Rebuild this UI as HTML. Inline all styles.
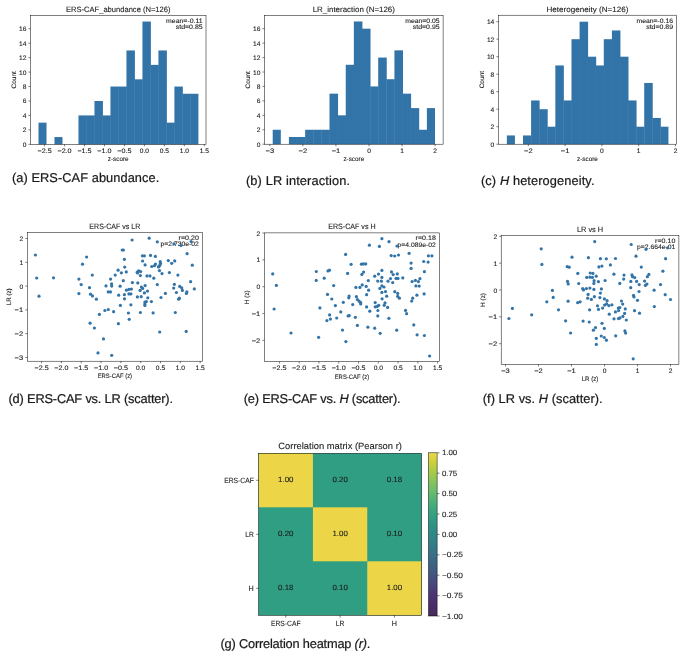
<!DOCTYPE html>
<html><head><meta charset="utf-8"><title>Figure</title>
<style>
html,body{margin:0;padding:0;background:#fff;}
svg{display:block;will-change:transform;}
text{font-family:"Liberation Sans",sans-serif;text-rendering:geometricPrecision;}
</style></head>
<body>
<svg width="685" height="651" viewBox="0 0 685 651">
<defs><filter id="tb" x="-20%" y="-40%" width="140%" height="180%"><feGaussianBlur stdDeviation="0"/></filter></defs>
<rect width="685" height="651" fill="#fff"/>
<rect x="38.50" y="122.64" width="8.00" height="21.66" fill="#3274a8"/>
<rect x="54.49" y="137.08" width="8.00" height="7.22" fill="#3274a8"/>
<rect x="78.47" y="115.42" width="8.45" height="28.88" fill="#3274a8"/>
<rect x="86.47" y="115.42" width="8.45" height="28.88" fill="#3274a8"/>
<rect x="94.47" y="100.98" width="8.45" height="43.32" fill="#3274a8"/>
<rect x="102.46" y="115.42" width="8.45" height="28.88" fill="#3274a8"/>
<rect x="110.45" y="86.54" width="8.45" height="57.76" fill="#3274a8"/>
<rect x="118.45" y="86.54" width="8.45" height="57.76" fill="#3274a8"/>
<rect x="126.45" y="50.44" width="8.45" height="93.86" fill="#3274a8"/>
<rect x="134.44" y="79.32" width="8.45" height="64.98" fill="#3274a8"/>
<rect x="142.44" y="21.56" width="8.45" height="122.74" fill="#3274a8"/>
<rect x="150.43" y="64.88" width="8.45" height="79.42" fill="#3274a8"/>
<rect x="158.43" y="50.44" width="8.45" height="93.86" fill="#3274a8"/>
<rect x="166.42" y="122.64" width="8.45" height="21.66" fill="#3274a8"/>
<rect x="174.41" y="86.54" width="8.45" height="57.76" fill="#3274a8"/>
<rect x="182.41" y="93.76" width="8.45" height="50.54" fill="#3274a8"/>
<rect x="190.41" y="93.76" width="8.00" height="50.54" fill="#3274a8"/>
<line x1="86.47" y1="115.42" x2="86.47" y2="144.30" stroke="rgba(255,255,255,0.09)" stroke-width="0.35"/>
<line x1="94.47" y1="115.42" x2="94.47" y2="144.30" stroke="rgba(255,255,255,0.09)" stroke-width="0.35"/>
<line x1="102.46" y1="115.42" x2="102.46" y2="144.30" stroke="rgba(255,255,255,0.09)" stroke-width="0.35"/>
<line x1="110.45" y1="115.42" x2="110.45" y2="144.30" stroke="rgba(255,255,255,0.09)" stroke-width="0.35"/>
<line x1="118.45" y1="86.54" x2="118.45" y2="144.30" stroke="rgba(255,255,255,0.09)" stroke-width="0.35"/>
<line x1="126.45" y1="86.54" x2="126.45" y2="144.30" stroke="rgba(255,255,255,0.09)" stroke-width="0.35"/>
<line x1="134.44" y1="79.32" x2="134.44" y2="144.30" stroke="rgba(255,255,255,0.09)" stroke-width="0.35"/>
<line x1="142.44" y1="79.32" x2="142.44" y2="144.30" stroke="rgba(255,255,255,0.09)" stroke-width="0.35"/>
<line x1="150.43" y1="64.88" x2="150.43" y2="144.30" stroke="rgba(255,255,255,0.09)" stroke-width="0.35"/>
<line x1="158.43" y1="64.88" x2="158.43" y2="144.30" stroke="rgba(255,255,255,0.09)" stroke-width="0.35"/>
<line x1="166.42" y1="122.64" x2="166.42" y2="144.30" stroke="rgba(255,255,255,0.09)" stroke-width="0.35"/>
<line x1="174.41" y1="122.64" x2="174.41" y2="144.30" stroke="rgba(255,255,255,0.09)" stroke-width="0.35"/>
<line x1="182.41" y1="93.76" x2="182.41" y2="144.30" stroke="rgba(255,255,255,0.09)" stroke-width="0.35"/>
<line x1="190.41" y1="93.76" x2="190.41" y2="144.30" stroke="rgba(255,255,255,0.09)" stroke-width="0.35"/>
<rect x="30.50" y="15.40" width="175.50" height="128.90" fill="none" stroke="#000" stroke-width="0.5"/>
<line x1="44.58" y1="144.30" x2="44.58" y2="146.34" stroke="#000" stroke-width="0.5"/>
<text x="44.58" y="152.75" font-size="6.41" text-anchor="middle" textLength="14.16" lengthAdjust="spacingAndGlyphs" fill="#1c1c1c" stroke="#1c1c1c" stroke-width="0.1">−2.5</text>
<line x1="64.54" y1="144.30" x2="64.54" y2="146.34" stroke="#000" stroke-width="0.5"/>
<text x="64.54" y="152.75" font-size="6.41" text-anchor="middle" textLength="14.16" lengthAdjust="spacingAndGlyphs" fill="#1c1c1c" stroke="#1c1c1c" stroke-width="0.1">−2.0</text>
<line x1="84.51" y1="144.30" x2="84.51" y2="146.34" stroke="#000" stroke-width="0.5"/>
<text x="84.51" y="152.75" font-size="6.41" text-anchor="middle" textLength="14.16" lengthAdjust="spacingAndGlyphs" fill="#1c1c1c" stroke="#1c1c1c" stroke-width="0.1">−1.5</text>
<line x1="104.47" y1="144.30" x2="104.47" y2="146.34" stroke="#000" stroke-width="0.5"/>
<text x="104.47" y="152.75" font-size="6.41" text-anchor="middle" textLength="14.16" lengthAdjust="spacingAndGlyphs" fill="#1c1c1c" stroke="#1c1c1c" stroke-width="0.1">−1.0</text>
<line x1="124.44" y1="144.30" x2="124.44" y2="146.34" stroke="#000" stroke-width="0.5"/>
<text x="124.44" y="152.75" font-size="6.41" text-anchor="middle" textLength="14.16" lengthAdjust="spacingAndGlyphs" fill="#1c1c1c" stroke="#1c1c1c" stroke-width="0.1">−0.5</text>
<line x1="144.40" y1="144.30" x2="144.40" y2="146.34" stroke="#000" stroke-width="0.5"/>
<text x="144.40" y="152.75" font-size="6.41" text-anchor="middle" textLength="9.27" lengthAdjust="spacingAndGlyphs" fill="#1c1c1c" stroke="#1c1c1c" stroke-width="0.1">0.0</text>
<line x1="164.37" y1="144.30" x2="164.37" y2="146.34" stroke="#000" stroke-width="0.5"/>
<text x="164.37" y="152.75" font-size="6.41" text-anchor="middle" textLength="9.27" lengthAdjust="spacingAndGlyphs" fill="#1c1c1c" stroke="#1c1c1c" stroke-width="0.1">0.5</text>
<line x1="184.33" y1="144.30" x2="184.33" y2="146.34" stroke="#000" stroke-width="0.5"/>
<text x="184.33" y="152.75" font-size="6.41" text-anchor="middle" textLength="9.27" lengthAdjust="spacingAndGlyphs" fill="#1c1c1c" stroke="#1c1c1c" stroke-width="0.1">1.0</text>
<line x1="204.30" y1="144.30" x2="204.30" y2="146.34" stroke="#000" stroke-width="0.5"/>
<text x="204.30" y="152.75" font-size="6.41" text-anchor="middle" textLength="9.27" lengthAdjust="spacingAndGlyphs" fill="#1c1c1c" stroke="#1c1c1c" stroke-width="0.1">1.5</text>
<line x1="28.46" y1="144.30" x2="30.50" y2="144.30" stroke="#000" stroke-width="0.5"/>
<text x="26.42" y="146.80" font-size="6.41" text-anchor="end" textLength="3.71" lengthAdjust="spacingAndGlyphs" fill="#1c1c1c" stroke="#1c1c1c" stroke-width="0.1">0</text>
<line x1="28.46" y1="129.86" x2="30.50" y2="129.86" stroke="#000" stroke-width="0.5"/>
<text x="26.42" y="132.36" font-size="6.41" text-anchor="end" textLength="3.71" lengthAdjust="spacingAndGlyphs" fill="#1c1c1c" stroke="#1c1c1c" stroke-width="0.1">2</text>
<line x1="28.46" y1="115.42" x2="30.50" y2="115.42" stroke="#000" stroke-width="0.5"/>
<text x="26.42" y="117.92" font-size="6.41" text-anchor="end" textLength="3.71" lengthAdjust="spacingAndGlyphs" fill="#1c1c1c" stroke="#1c1c1c" stroke-width="0.1">4</text>
<line x1="28.46" y1="100.98" x2="30.50" y2="100.98" stroke="#000" stroke-width="0.5"/>
<text x="26.42" y="103.48" font-size="6.41" text-anchor="end" textLength="3.71" lengthAdjust="spacingAndGlyphs" fill="#1c1c1c" stroke="#1c1c1c" stroke-width="0.1">6</text>
<line x1="28.46" y1="86.54" x2="30.50" y2="86.54" stroke="#000" stroke-width="0.5"/>
<text x="26.42" y="89.04" font-size="6.41" text-anchor="end" textLength="3.71" lengthAdjust="spacingAndGlyphs" fill="#1c1c1c" stroke="#1c1c1c" stroke-width="0.1">8</text>
<line x1="28.46" y1="72.10" x2="30.50" y2="72.10" stroke="#000" stroke-width="0.5"/>
<text x="26.42" y="74.60" font-size="6.41" text-anchor="end" textLength="7.42" lengthAdjust="spacingAndGlyphs" fill="#1c1c1c" stroke="#1c1c1c" stroke-width="0.1">10</text>
<line x1="28.46" y1="57.66" x2="30.50" y2="57.66" stroke="#000" stroke-width="0.5"/>
<text x="26.42" y="60.16" font-size="6.41" text-anchor="end" textLength="7.42" lengthAdjust="spacingAndGlyphs" fill="#1c1c1c" stroke="#1c1c1c" stroke-width="0.1">12</text>
<line x1="28.46" y1="43.22" x2="30.50" y2="43.22" stroke="#000" stroke-width="0.5"/>
<text x="26.42" y="45.72" font-size="6.41" text-anchor="end" textLength="7.42" lengthAdjust="spacingAndGlyphs" fill="#1c1c1c" stroke="#1c1c1c" stroke-width="0.1">14</text>
<line x1="28.46" y1="28.78" x2="30.50" y2="28.78" stroke="#000" stroke-width="0.5"/>
<text x="26.42" y="31.28" font-size="6.41" text-anchor="end" textLength="7.42" lengthAdjust="spacingAndGlyphs" fill="#1c1c1c" stroke="#1c1c1c" stroke-width="0.1">16</text>
<text x="118.25" y="11.90" font-size="7.70" text-anchor="middle" textLength="104.54" lengthAdjust="spacingAndGlyphs" fill="#1c1c1c" stroke="#1c1c1c" stroke-width="0.1">ERS-CAF_abundance (N=126)</text>
<text x="202.64" y="22.80" font-size="6.41" text-anchor="end" textLength="36.50" lengthAdjust="spacingAndGlyphs" fill="#1c1c1c" stroke="#1c1c1c" stroke-width="0.1">mean=-0.11</text>
<text x="202.64" y="29.15" font-size="6.41" text-anchor="end" textLength="26.89" lengthAdjust="spacingAndGlyphs" fill="#1c1c1c" stroke="#1c1c1c" stroke-width="0.1">std=0.85</text>
<text x="118.25" y="160.70" font-size="6.41" text-anchor="middle" textLength="20.83" lengthAdjust="spacingAndGlyphs" fill="#1c1c1c" stroke="#1c1c1c" stroke-width="0.1">z-score</text>
<text x="16.10" y="79.85" font-size="6.41" text-anchor="middle" textLength="17.31" lengthAdjust="spacingAndGlyphs" fill="#1c1c1c" stroke="#1c1c1c" stroke-width="0.1" transform="rotate(-90 16.10 79.85)">Count</text>
<rect x="272.70" y="129.76" width="8.12" height="14.44" fill="#3274a8"/>
<rect x="288.93" y="136.98" width="8.56" height="7.22" fill="#3274a8"/>
<rect x="297.04" y="136.98" width="8.56" height="7.22" fill="#3274a8"/>
<rect x="305.16" y="129.76" width="8.56" height="14.44" fill="#3274a8"/>
<rect x="313.27" y="129.76" width="8.56" height="14.44" fill="#3274a8"/>
<rect x="321.39" y="129.76" width="8.56" height="14.44" fill="#3274a8"/>
<rect x="329.50" y="93.66" width="8.56" height="50.54" fill="#3274a8"/>
<rect x="337.62" y="115.32" width="8.56" height="28.88" fill="#3274a8"/>
<rect x="345.74" y="64.78" width="8.56" height="79.42" fill="#3274a8"/>
<rect x="353.85" y="21.46" width="8.56" height="122.74" fill="#3274a8"/>
<rect x="361.96" y="28.68" width="8.56" height="115.52" fill="#3274a8"/>
<rect x="370.08" y="86.44" width="8.56" height="57.76" fill="#3274a8"/>
<rect x="378.19" y="57.56" width="8.56" height="86.64" fill="#3274a8"/>
<rect x="386.31" y="79.22" width="8.56" height="64.98" fill="#3274a8"/>
<rect x="394.43" y="50.34" width="8.56" height="93.86" fill="#3274a8"/>
<rect x="402.54" y="93.66" width="8.56" height="50.54" fill="#3274a8"/>
<rect x="410.65" y="108.10" width="8.56" height="36.10" fill="#3274a8"/>
<rect x="418.77" y="129.76" width="8.56" height="14.44" fill="#3274a8"/>
<rect x="426.88" y="108.10" width="8.12" height="36.10" fill="#3274a8"/>
<line x1="297.04" y1="136.98" x2="297.04" y2="144.20" stroke="rgba(255,255,255,0.09)" stroke-width="0.35"/>
<line x1="305.16" y1="136.98" x2="305.16" y2="144.20" stroke="rgba(255,255,255,0.09)" stroke-width="0.35"/>
<line x1="313.27" y1="129.76" x2="313.27" y2="144.20" stroke="rgba(255,255,255,0.09)" stroke-width="0.35"/>
<line x1="321.39" y1="129.76" x2="321.39" y2="144.20" stroke="rgba(255,255,255,0.09)" stroke-width="0.35"/>
<line x1="329.50" y1="129.76" x2="329.50" y2="144.20" stroke="rgba(255,255,255,0.09)" stroke-width="0.35"/>
<line x1="337.62" y1="115.32" x2="337.62" y2="144.20" stroke="rgba(255,255,255,0.09)" stroke-width="0.35"/>
<line x1="345.74" y1="115.32" x2="345.74" y2="144.20" stroke="rgba(255,255,255,0.09)" stroke-width="0.35"/>
<line x1="353.85" y1="64.78" x2="353.85" y2="144.20" stroke="rgba(255,255,255,0.09)" stroke-width="0.35"/>
<line x1="361.96" y1="28.68" x2="361.96" y2="144.20" stroke="rgba(255,255,255,0.09)" stroke-width="0.35"/>
<line x1="370.08" y1="86.44" x2="370.08" y2="144.20" stroke="rgba(255,255,255,0.09)" stroke-width="0.35"/>
<line x1="378.19" y1="86.44" x2="378.19" y2="144.20" stroke="rgba(255,255,255,0.09)" stroke-width="0.35"/>
<line x1="386.31" y1="79.22" x2="386.31" y2="144.20" stroke="rgba(255,255,255,0.09)" stroke-width="0.35"/>
<line x1="394.43" y1="79.22" x2="394.43" y2="144.20" stroke="rgba(255,255,255,0.09)" stroke-width="0.35"/>
<line x1="402.54" y1="93.66" x2="402.54" y2="144.20" stroke="rgba(255,255,255,0.09)" stroke-width="0.35"/>
<line x1="410.65" y1="108.10" x2="410.65" y2="144.20" stroke="rgba(255,255,255,0.09)" stroke-width="0.35"/>
<line x1="418.77" y1="129.76" x2="418.77" y2="144.20" stroke="rgba(255,255,255,0.09)" stroke-width="0.35"/>
<line x1="426.88" y1="129.76" x2="426.88" y2="144.20" stroke="rgba(255,255,255,0.09)" stroke-width="0.35"/>
<rect x="264.50" y="15.30" width="178.60" height="128.90" fill="none" stroke="#000" stroke-width="0.5"/>
<line x1="269.85" y1="144.20" x2="269.85" y2="146.24" stroke="#000" stroke-width="0.5"/>
<text x="269.85" y="152.65" font-size="6.41" text-anchor="middle" textLength="8.59" lengthAdjust="spacingAndGlyphs" fill="#1c1c1c" stroke="#1c1c1c" stroke-width="0.1">−3</text>
<line x1="302.90" y1="144.20" x2="302.90" y2="146.24" stroke="#000" stroke-width="0.5"/>
<text x="302.90" y="152.65" font-size="6.41" text-anchor="middle" textLength="8.59" lengthAdjust="spacingAndGlyphs" fill="#1c1c1c" stroke="#1c1c1c" stroke-width="0.1">−2</text>
<line x1="335.95" y1="144.20" x2="335.95" y2="146.24" stroke="#000" stroke-width="0.5"/>
<text x="335.95" y="152.65" font-size="6.41" text-anchor="middle" textLength="8.59" lengthAdjust="spacingAndGlyphs" fill="#1c1c1c" stroke="#1c1c1c" stroke-width="0.1">−1</text>
<line x1="369.00" y1="144.20" x2="369.00" y2="146.24" stroke="#000" stroke-width="0.5"/>
<text x="369.00" y="152.65" font-size="6.41" text-anchor="middle" textLength="3.71" lengthAdjust="spacingAndGlyphs" fill="#1c1c1c" stroke="#1c1c1c" stroke-width="0.1">0</text>
<line x1="402.05" y1="144.20" x2="402.05" y2="146.24" stroke="#000" stroke-width="0.5"/>
<text x="402.05" y="152.65" font-size="6.41" text-anchor="middle" textLength="3.71" lengthAdjust="spacingAndGlyphs" fill="#1c1c1c" stroke="#1c1c1c" stroke-width="0.1">1</text>
<line x1="435.10" y1="144.20" x2="435.10" y2="146.24" stroke="#000" stroke-width="0.5"/>
<text x="435.10" y="152.65" font-size="6.41" text-anchor="middle" textLength="3.71" lengthAdjust="spacingAndGlyphs" fill="#1c1c1c" stroke="#1c1c1c" stroke-width="0.1">2</text>
<line x1="262.46" y1="144.20" x2="264.50" y2="144.20" stroke="#000" stroke-width="0.5"/>
<text x="260.42" y="146.70" font-size="6.41" text-anchor="end" textLength="3.71" lengthAdjust="spacingAndGlyphs" fill="#1c1c1c" stroke="#1c1c1c" stroke-width="0.1">0</text>
<line x1="262.46" y1="129.76" x2="264.50" y2="129.76" stroke="#000" stroke-width="0.5"/>
<text x="260.42" y="132.26" font-size="6.41" text-anchor="end" textLength="3.71" lengthAdjust="spacingAndGlyphs" fill="#1c1c1c" stroke="#1c1c1c" stroke-width="0.1">2</text>
<line x1="262.46" y1="115.32" x2="264.50" y2="115.32" stroke="#000" stroke-width="0.5"/>
<text x="260.42" y="117.82" font-size="6.41" text-anchor="end" textLength="3.71" lengthAdjust="spacingAndGlyphs" fill="#1c1c1c" stroke="#1c1c1c" stroke-width="0.1">4</text>
<line x1="262.46" y1="100.88" x2="264.50" y2="100.88" stroke="#000" stroke-width="0.5"/>
<text x="260.42" y="103.38" font-size="6.41" text-anchor="end" textLength="3.71" lengthAdjust="spacingAndGlyphs" fill="#1c1c1c" stroke="#1c1c1c" stroke-width="0.1">6</text>
<line x1="262.46" y1="86.44" x2="264.50" y2="86.44" stroke="#000" stroke-width="0.5"/>
<text x="260.42" y="88.94" font-size="6.41" text-anchor="end" textLength="3.71" lengthAdjust="spacingAndGlyphs" fill="#1c1c1c" stroke="#1c1c1c" stroke-width="0.1">8</text>
<line x1="262.46" y1="72.00" x2="264.50" y2="72.00" stroke="#000" stroke-width="0.5"/>
<text x="260.42" y="74.50" font-size="6.41" text-anchor="end" textLength="7.42" lengthAdjust="spacingAndGlyphs" fill="#1c1c1c" stroke="#1c1c1c" stroke-width="0.1">10</text>
<line x1="262.46" y1="57.56" x2="264.50" y2="57.56" stroke="#000" stroke-width="0.5"/>
<text x="260.42" y="60.06" font-size="6.41" text-anchor="end" textLength="7.42" lengthAdjust="spacingAndGlyphs" fill="#1c1c1c" stroke="#1c1c1c" stroke-width="0.1">12</text>
<line x1="262.46" y1="43.12" x2="264.50" y2="43.12" stroke="#000" stroke-width="0.5"/>
<text x="260.42" y="45.62" font-size="6.41" text-anchor="end" textLength="7.42" lengthAdjust="spacingAndGlyphs" fill="#1c1c1c" stroke="#1c1c1c" stroke-width="0.1">14</text>
<line x1="262.46" y1="28.68" x2="264.50" y2="28.68" stroke="#000" stroke-width="0.5"/>
<text x="260.42" y="31.18" font-size="6.41" text-anchor="end" textLength="7.42" lengthAdjust="spacingAndGlyphs" fill="#1c1c1c" stroke="#1c1c1c" stroke-width="0.1">16</text>
<text x="353.80" y="11.90" font-size="7.70" text-anchor="middle" textLength="82.27" lengthAdjust="spacingAndGlyphs" fill="#1c1c1c" stroke="#1c1c1c" stroke-width="0.1">LR_interaction (N=126)</text>
<text x="439.68" y="22.70" font-size="6.41" text-anchor="end" textLength="34.40" lengthAdjust="spacingAndGlyphs" fill="#1c1c1c" stroke="#1c1c1c" stroke-width="0.1">mean=0.05</text>
<text x="439.68" y="29.05" font-size="6.41" text-anchor="end" textLength="26.89" lengthAdjust="spacingAndGlyphs" fill="#1c1c1c" stroke="#1c1c1c" stroke-width="0.1">std=0.95</text>
<text x="353.80" y="160.60" font-size="6.41" text-anchor="middle" textLength="20.83" lengthAdjust="spacingAndGlyphs" fill="#1c1c1c" stroke="#1c1c1c" stroke-width="0.1">z-score</text>
<text x="250.00" y="79.75" font-size="6.41" text-anchor="middle" textLength="17.31" lengthAdjust="spacingAndGlyphs" fill="#1c1c1c" stroke="#1c1c1c" stroke-width="0.1" transform="rotate(-90 250.00 79.75)">Count</text>
<rect x="506.85" y="135.45" width="8.08" height="8.75" fill="#3274a8"/>
<rect x="523.01" y="135.45" width="8.53" height="8.75" fill="#3274a8"/>
<rect x="531.09" y="100.45" width="8.53" height="43.75" fill="#3274a8"/>
<rect x="539.17" y="109.20" width="8.53" height="35.00" fill="#3274a8"/>
<rect x="547.25" y="126.70" width="8.53" height="17.50" fill="#3274a8"/>
<rect x="555.33" y="65.45" width="8.53" height="78.75" fill="#3274a8"/>
<rect x="563.41" y="100.45" width="8.53" height="43.75" fill="#3274a8"/>
<rect x="571.49" y="39.20" width="8.53" height="105.00" fill="#3274a8"/>
<rect x="579.57" y="21.70" width="8.53" height="122.50" fill="#3274a8"/>
<rect x="587.65" y="56.70" width="8.53" height="87.50" fill="#3274a8"/>
<rect x="595.73" y="65.45" width="8.53" height="78.75" fill="#3274a8"/>
<rect x="603.81" y="39.20" width="8.53" height="105.00" fill="#3274a8"/>
<rect x="611.89" y="30.45" width="8.53" height="113.75" fill="#3274a8"/>
<rect x="619.97" y="56.70" width="8.53" height="87.50" fill="#3274a8"/>
<rect x="628.05" y="100.45" width="8.53" height="43.75" fill="#3274a8"/>
<rect x="636.13" y="126.70" width="8.53" height="17.50" fill="#3274a8"/>
<rect x="644.21" y="82.95" width="8.53" height="61.25" fill="#3274a8"/>
<rect x="652.29" y="117.95" width="8.53" height="26.25" fill="#3274a8"/>
<rect x="660.37" y="126.70" width="8.08" height="17.50" fill="#3274a8"/>
<line x1="531.09" y1="135.45" x2="531.09" y2="144.20" stroke="rgba(255,255,255,0.09)" stroke-width="0.35"/>
<line x1="539.17" y1="109.20" x2="539.17" y2="144.20" stroke="rgba(255,255,255,0.09)" stroke-width="0.35"/>
<line x1="547.25" y1="126.70" x2="547.25" y2="144.20" stroke="rgba(255,255,255,0.09)" stroke-width="0.35"/>
<line x1="555.33" y1="126.70" x2="555.33" y2="144.20" stroke="rgba(255,255,255,0.09)" stroke-width="0.35"/>
<line x1="563.41" y1="100.45" x2="563.41" y2="144.20" stroke="rgba(255,255,255,0.09)" stroke-width="0.35"/>
<line x1="571.49" y1="100.45" x2="571.49" y2="144.20" stroke="rgba(255,255,255,0.09)" stroke-width="0.35"/>
<line x1="579.57" y1="39.20" x2="579.57" y2="144.20" stroke="rgba(255,255,255,0.09)" stroke-width="0.35"/>
<line x1="587.65" y1="56.70" x2="587.65" y2="144.20" stroke="rgba(255,255,255,0.09)" stroke-width="0.35"/>
<line x1="595.73" y1="65.45" x2="595.73" y2="144.20" stroke="rgba(255,255,255,0.09)" stroke-width="0.35"/>
<line x1="603.81" y1="65.45" x2="603.81" y2="144.20" stroke="rgba(255,255,255,0.09)" stroke-width="0.35"/>
<line x1="611.89" y1="39.20" x2="611.89" y2="144.20" stroke="rgba(255,255,255,0.09)" stroke-width="0.35"/>
<line x1="619.97" y1="56.70" x2="619.97" y2="144.20" stroke="rgba(255,255,255,0.09)" stroke-width="0.35"/>
<line x1="628.05" y1="100.45" x2="628.05" y2="144.20" stroke="rgba(255,255,255,0.09)" stroke-width="0.35"/>
<line x1="636.13" y1="126.70" x2="636.13" y2="144.20" stroke="rgba(255,255,255,0.09)" stroke-width="0.35"/>
<line x1="644.21" y1="126.70" x2="644.21" y2="144.20" stroke="rgba(255,255,255,0.09)" stroke-width="0.35"/>
<line x1="652.29" y1="117.95" x2="652.29" y2="144.20" stroke="rgba(255,255,255,0.09)" stroke-width="0.35"/>
<line x1="660.37" y1="126.70" x2="660.37" y2="144.20" stroke="rgba(255,255,255,0.09)" stroke-width="0.35"/>
<rect x="498.40" y="15.20" width="178.10" height="129.00" fill="none" stroke="#000" stroke-width="0.5"/>
<line x1="528.30" y1="144.20" x2="528.30" y2="146.24" stroke="#000" stroke-width="0.5"/>
<text x="528.30" y="152.65" font-size="6.41" text-anchor="middle" textLength="8.59" lengthAdjust="spacingAndGlyphs" fill="#1c1c1c" stroke="#1c1c1c" stroke-width="0.1">−2</text>
<line x1="565.10" y1="144.20" x2="565.10" y2="146.24" stroke="#000" stroke-width="0.5"/>
<text x="565.10" y="152.65" font-size="6.41" text-anchor="middle" textLength="8.59" lengthAdjust="spacingAndGlyphs" fill="#1c1c1c" stroke="#1c1c1c" stroke-width="0.1">−1</text>
<line x1="601.90" y1="144.20" x2="601.90" y2="146.24" stroke="#000" stroke-width="0.5"/>
<text x="601.90" y="152.65" font-size="6.41" text-anchor="middle" textLength="3.71" lengthAdjust="spacingAndGlyphs" fill="#1c1c1c" stroke="#1c1c1c" stroke-width="0.1">0</text>
<line x1="638.70" y1="144.20" x2="638.70" y2="146.24" stroke="#000" stroke-width="0.5"/>
<text x="638.70" y="152.65" font-size="6.41" text-anchor="middle" textLength="3.71" lengthAdjust="spacingAndGlyphs" fill="#1c1c1c" stroke="#1c1c1c" stroke-width="0.1">1</text>
<line x1="675.50" y1="144.20" x2="675.50" y2="146.24" stroke="#000" stroke-width="0.5"/>
<text x="675.50" y="152.65" font-size="6.41" text-anchor="middle" textLength="3.71" lengthAdjust="spacingAndGlyphs" fill="#1c1c1c" stroke="#1c1c1c" stroke-width="0.1">2</text>
<line x1="496.36" y1="144.20" x2="498.40" y2="144.20" stroke="#000" stroke-width="0.5"/>
<text x="494.32" y="146.70" font-size="6.41" text-anchor="end" textLength="3.71" lengthAdjust="spacingAndGlyphs" fill="#1c1c1c" stroke="#1c1c1c" stroke-width="0.1">0</text>
<line x1="496.36" y1="126.70" x2="498.40" y2="126.70" stroke="#000" stroke-width="0.5"/>
<text x="494.32" y="129.20" font-size="6.41" text-anchor="end" textLength="3.71" lengthAdjust="spacingAndGlyphs" fill="#1c1c1c" stroke="#1c1c1c" stroke-width="0.1">2</text>
<line x1="496.36" y1="109.20" x2="498.40" y2="109.20" stroke="#000" stroke-width="0.5"/>
<text x="494.32" y="111.70" font-size="6.41" text-anchor="end" textLength="3.71" lengthAdjust="spacingAndGlyphs" fill="#1c1c1c" stroke="#1c1c1c" stroke-width="0.1">4</text>
<line x1="496.36" y1="91.70" x2="498.40" y2="91.70" stroke="#000" stroke-width="0.5"/>
<text x="494.32" y="94.20" font-size="6.41" text-anchor="end" textLength="3.71" lengthAdjust="spacingAndGlyphs" fill="#1c1c1c" stroke="#1c1c1c" stroke-width="0.1">6</text>
<line x1="496.36" y1="74.20" x2="498.40" y2="74.20" stroke="#000" stroke-width="0.5"/>
<text x="494.32" y="76.70" font-size="6.41" text-anchor="end" textLength="3.71" lengthAdjust="spacingAndGlyphs" fill="#1c1c1c" stroke="#1c1c1c" stroke-width="0.1">8</text>
<line x1="496.36" y1="56.70" x2="498.40" y2="56.70" stroke="#000" stroke-width="0.5"/>
<text x="494.32" y="59.20" font-size="6.41" text-anchor="end" textLength="7.42" lengthAdjust="spacingAndGlyphs" fill="#1c1c1c" stroke="#1c1c1c" stroke-width="0.1">10</text>
<line x1="496.36" y1="39.20" x2="498.40" y2="39.20" stroke="#000" stroke-width="0.5"/>
<text x="494.32" y="41.70" font-size="6.41" text-anchor="end" textLength="7.42" lengthAdjust="spacingAndGlyphs" fill="#1c1c1c" stroke="#1c1c1c" stroke-width="0.1">12</text>
<line x1="496.36" y1="21.70" x2="498.40" y2="21.70" stroke="#000" stroke-width="0.5"/>
<text x="494.32" y="24.20" font-size="6.41" text-anchor="end" textLength="7.42" lengthAdjust="spacingAndGlyphs" fill="#1c1c1c" stroke="#1c1c1c" stroke-width="0.1">14</text>
<text x="587.45" y="11.90" font-size="7.70" text-anchor="middle" textLength="82.10" lengthAdjust="spacingAndGlyphs" fill="#1c1c1c" stroke="#1c1c1c" stroke-width="0.1">Heterogeneity (N=126)</text>
<text x="673.09" y="22.60" font-size="6.41" text-anchor="end" textLength="36.50" lengthAdjust="spacingAndGlyphs" fill="#1c1c1c" stroke="#1c1c1c" stroke-width="0.1">mean=-0.16</text>
<text x="673.09" y="28.95" font-size="6.41" text-anchor="end" textLength="26.89" lengthAdjust="spacingAndGlyphs" fill="#1c1c1c" stroke="#1c1c1c" stroke-width="0.1">std=0.89</text>
<text x="587.45" y="160.60" font-size="6.41" text-anchor="middle" textLength="20.83" lengthAdjust="spacingAndGlyphs" fill="#1c1c1c" stroke="#1c1c1c" stroke-width="0.1">z-score</text>
<text x="484.00" y="79.70" font-size="6.41" text-anchor="middle" textLength="17.31" lengthAdjust="spacingAndGlyphs" fill="#1c1c1c" stroke="#1c1c1c" stroke-width="0.1" transform="rotate(-90 484.00 79.70)">Count</text>
<rect x="27.30" y="232.40" width="175.10" height="128.80" fill="none" stroke="#000" stroke-width="0.5"/>
<line x1="41.57" y1="361.20" x2="41.57" y2="363.24" stroke="#000" stroke-width="0.5"/>
<text x="41.57" y="369.65" font-size="6.41" text-anchor="middle" textLength="14.16" lengthAdjust="spacingAndGlyphs" fill="#1c1c1c" stroke="#1c1c1c" stroke-width="0.1">−2.5</text>
<line x1="61.40" y1="361.20" x2="61.40" y2="363.24" stroke="#000" stroke-width="0.5"/>
<text x="61.40" y="369.65" font-size="6.41" text-anchor="middle" textLength="14.16" lengthAdjust="spacingAndGlyphs" fill="#1c1c1c" stroke="#1c1c1c" stroke-width="0.1">−2.0</text>
<line x1="81.22" y1="361.20" x2="81.22" y2="363.24" stroke="#000" stroke-width="0.5"/>
<text x="81.22" y="369.65" font-size="6.41" text-anchor="middle" textLength="14.16" lengthAdjust="spacingAndGlyphs" fill="#1c1c1c" stroke="#1c1c1c" stroke-width="0.1">−1.5</text>
<line x1="101.05" y1="361.20" x2="101.05" y2="363.24" stroke="#000" stroke-width="0.5"/>
<text x="101.05" y="369.65" font-size="6.41" text-anchor="middle" textLength="14.16" lengthAdjust="spacingAndGlyphs" fill="#1c1c1c" stroke="#1c1c1c" stroke-width="0.1">−1.0</text>
<line x1="120.87" y1="361.20" x2="120.87" y2="363.24" stroke="#000" stroke-width="0.5"/>
<text x="120.87" y="369.65" font-size="6.41" text-anchor="middle" textLength="14.16" lengthAdjust="spacingAndGlyphs" fill="#1c1c1c" stroke="#1c1c1c" stroke-width="0.1">−0.5</text>
<line x1="140.70" y1="361.20" x2="140.70" y2="363.24" stroke="#000" stroke-width="0.5"/>
<text x="140.70" y="369.65" font-size="6.41" text-anchor="middle" textLength="9.27" lengthAdjust="spacingAndGlyphs" fill="#1c1c1c" stroke="#1c1c1c" stroke-width="0.1">0.0</text>
<line x1="160.52" y1="361.20" x2="160.52" y2="363.24" stroke="#000" stroke-width="0.5"/>
<text x="160.52" y="369.65" font-size="6.41" text-anchor="middle" textLength="9.27" lengthAdjust="spacingAndGlyphs" fill="#1c1c1c" stroke="#1c1c1c" stroke-width="0.1">0.5</text>
<line x1="180.35" y1="361.20" x2="180.35" y2="363.24" stroke="#000" stroke-width="0.5"/>
<text x="180.35" y="369.65" font-size="6.41" text-anchor="middle" textLength="9.27" lengthAdjust="spacingAndGlyphs" fill="#1c1c1c" stroke="#1c1c1c" stroke-width="0.1">1.0</text>
<line x1="200.17" y1="361.20" x2="200.17" y2="363.24" stroke="#000" stroke-width="0.5"/>
<text x="200.17" y="369.65" font-size="6.41" text-anchor="middle" textLength="9.27" lengthAdjust="spacingAndGlyphs" fill="#1c1c1c" stroke="#1c1c1c" stroke-width="0.1">1.5</text>
<line x1="25.26" y1="357.44" x2="27.30" y2="357.44" stroke="#000" stroke-width="0.5"/>
<text x="23.22" y="359.94" font-size="6.41" text-anchor="end" textLength="8.59" lengthAdjust="spacingAndGlyphs" fill="#1c1c1c" stroke="#1c1c1c" stroke-width="0.1">−3</text>
<line x1="25.26" y1="333.66" x2="27.30" y2="333.66" stroke="#000" stroke-width="0.5"/>
<text x="23.22" y="336.16" font-size="6.41" text-anchor="end" textLength="8.59" lengthAdjust="spacingAndGlyphs" fill="#1c1c1c" stroke="#1c1c1c" stroke-width="0.1">−2</text>
<line x1="25.26" y1="309.88" x2="27.30" y2="309.88" stroke="#000" stroke-width="0.5"/>
<text x="23.22" y="312.38" font-size="6.41" text-anchor="end" textLength="8.59" lengthAdjust="spacingAndGlyphs" fill="#1c1c1c" stroke="#1c1c1c" stroke-width="0.1">−1</text>
<line x1="25.26" y1="286.10" x2="27.30" y2="286.10" stroke="#000" stroke-width="0.5"/>
<text x="23.22" y="288.60" font-size="6.41" text-anchor="end" textLength="3.71" lengthAdjust="spacingAndGlyphs" fill="#1c1c1c" stroke="#1c1c1c" stroke-width="0.1">0</text>
<line x1="25.26" y1="262.32" x2="27.30" y2="262.32" stroke="#000" stroke-width="0.5"/>
<text x="23.22" y="264.82" font-size="6.41" text-anchor="end" textLength="3.71" lengthAdjust="spacingAndGlyphs" fill="#1c1c1c" stroke="#1c1c1c" stroke-width="0.1">1</text>
<line x1="25.26" y1="238.54" x2="27.30" y2="238.54" stroke="#000" stroke-width="0.5"/>
<text x="23.22" y="241.04" font-size="6.41" text-anchor="end" textLength="3.71" lengthAdjust="spacingAndGlyphs" fill="#1c1c1c" stroke="#1c1c1c" stroke-width="0.1">2</text>
<text x="114.85" y="228.70" font-size="7.70" text-anchor="middle" textLength="50.96" lengthAdjust="spacingAndGlyphs" fill="#1c1c1c" stroke="#1c1c1c" stroke-width="0.1">ERS-CAF vs LR</text>
<text x="198.90" y="239.95" font-size="6.41" text-anchor="end" textLength="20.26" lengthAdjust="spacingAndGlyphs" fill="#1c1c1c" stroke="#1c1c1c" stroke-width="0.1">r=0.20</text>
<text x="198.90" y="246.25" font-size="6.41" text-anchor="end" textLength="38.38" lengthAdjust="spacingAndGlyphs" fill="#1c1c1c" stroke="#1c1c1c" stroke-width="0.1">p=2.730e-02</text>
<text x="114.85" y="378.20" font-size="6.41" text-anchor="middle" textLength="34.41" lengthAdjust="spacingAndGlyphs" fill="#1c1c1c" stroke="#1c1c1c" stroke-width="0.1">ERS-CAF (z)</text>
<text x="11.30" y="296.80" font-size="6.41" text-anchor="middle" textLength="16.76" lengthAdjust="spacingAndGlyphs" fill="#1c1c1c" stroke="#1c1c1c" stroke-width="0.1" transform="rotate(-90 11.30 296.80)">LR (z)</text>
<circle cx="35.4" cy="255.0" r="1.6" fill="#3274a8"/>
<circle cx="86.6" cy="257.0" r="1.6" fill="#3274a8"/>
<circle cx="82.5" cy="264.2" r="1.6" fill="#3274a8"/>
<circle cx="36.7" cy="278.0" r="1.6" fill="#3274a8"/>
<circle cx="53.5" cy="277.8" r="1.6" fill="#3274a8"/>
<circle cx="78.9" cy="279.1" r="1.6" fill="#3274a8"/>
<circle cx="81.2" cy="284.6" r="1.6" fill="#3274a8"/>
<circle cx="78.9" cy="293.6" r="1.6" fill="#3274a8"/>
<circle cx="39.0" cy="296.2" r="1.6" fill="#3274a8"/>
<circle cx="132.1" cy="240.0" r="1.6" fill="#3274a8"/>
<circle cx="122.2" cy="250.0" r="1.6" fill="#3274a8"/>
<circle cx="123.4" cy="250.0" r="1.6" fill="#3274a8"/>
<circle cx="124.4" cy="259.3" r="1.6" fill="#3274a8"/>
<circle cx="142.4" cy="255.8" r="1.6" fill="#3274a8"/>
<circle cx="144.4" cy="255.8" r="1.6" fill="#3274a8"/>
<circle cx="142.6" cy="261.0" r="1.6" fill="#3274a8"/>
<circle cx="145.1" cy="264.9" r="1.6" fill="#3274a8"/>
<circle cx="124.7" cy="267.1" r="1.6" fill="#3274a8"/>
<circle cx="118.1" cy="270.2" r="1.6" fill="#3274a8"/>
<circle cx="121.4" cy="272.8" r="1.6" fill="#3274a8"/>
<circle cx="126.3" cy="271.9" r="1.6" fill="#3274a8"/>
<circle cx="115.2" cy="275.1" r="1.6" fill="#3274a8"/>
<circle cx="92.3" cy="275.1" r="1.6" fill="#3274a8"/>
<circle cx="137.2" cy="272.2" r="1.6" fill="#3274a8"/>
<circle cx="138.6" cy="270.9" r="1.6" fill="#3274a8"/>
<circle cx="140.6" cy="271.6" r="1.6" fill="#3274a8"/>
<circle cx="137.6" cy="272.9" r="1.6" fill="#3274a8"/>
<circle cx="140.4" cy="275.6" r="1.6" fill="#3274a8"/>
<circle cx="110.6" cy="279.1" r="1.6" fill="#3274a8"/>
<circle cx="123.3" cy="280.7" r="1.6" fill="#3274a8"/>
<circle cx="132.4" cy="282.6" r="1.6" fill="#3274a8"/>
<circle cx="137.8" cy="282.9" r="1.6" fill="#3274a8"/>
<circle cx="106.0" cy="285.9" r="1.6" fill="#3274a8"/>
<circle cx="111.6" cy="283.9" r="1.6" fill="#3274a8"/>
<circle cx="111.7" cy="286.1" r="1.6" fill="#3274a8"/>
<circle cx="120.1" cy="286.2" r="1.6" fill="#3274a8"/>
<circle cx="89.5" cy="287.7" r="1.6" fill="#3274a8"/>
<circle cx="141.4" cy="287.1" r="1.6" fill="#3274a8"/>
<circle cx="142.6" cy="288.4" r="1.6" fill="#3274a8"/>
<circle cx="145.1" cy="285.6" r="1.6" fill="#3274a8"/>
<circle cx="140.1" cy="290.4" r="1.6" fill="#3274a8"/>
<circle cx="144.4" cy="292.9" r="1.6" fill="#3274a8"/>
<circle cx="126.4" cy="290.2" r="1.6" fill="#3274a8"/>
<circle cx="128.9" cy="289.4" r="1.6" fill="#3274a8"/>
<circle cx="131.4" cy="289.1" r="1.6" fill="#3274a8"/>
<circle cx="108.2" cy="291.9" r="1.6" fill="#3274a8"/>
<circle cx="110.5" cy="291.9" r="1.6" fill="#3274a8"/>
<circle cx="128.9" cy="293.9" r="1.6" fill="#3274a8"/>
<circle cx="130.9" cy="293.9" r="1.6" fill="#3274a8"/>
<circle cx="124.4" cy="294.7" r="1.6" fill="#3274a8"/>
<circle cx="118.7" cy="295.2" r="1.6" fill="#3274a8"/>
<circle cx="90.5" cy="294.2" r="1.6" fill="#3274a8"/>
<circle cx="92.5" cy="295.9" r="1.6" fill="#3274a8"/>
<circle cx="137.4" cy="296.9" r="1.6" fill="#3274a8"/>
<circle cx="141.2" cy="296.7" r="1.6" fill="#3274a8"/>
<circle cx="149.2" cy="238.2" r="1.6" fill="#3274a8"/>
<circle cx="157.3" cy="241.8" r="1.6" fill="#3274a8"/>
<circle cx="173.9" cy="243.8" r="1.6" fill="#3274a8"/>
<circle cx="180.9" cy="245.5" r="1.6" fill="#3274a8"/>
<circle cx="191.1" cy="241.6" r="1.6" fill="#3274a8"/>
<circle cx="187.1" cy="253.7" r="1.6" fill="#3274a8"/>
<circle cx="150.5" cy="255.4" r="1.6" fill="#3274a8"/>
<circle cx="155.4" cy="256.4" r="1.6" fill="#3274a8"/>
<circle cx="168.3" cy="260.6" r="1.6" fill="#3274a8"/>
<circle cx="174.7" cy="260.9" r="1.6" fill="#3274a8"/>
<circle cx="171.7" cy="263.3" r="1.6" fill="#3274a8"/>
<circle cx="192.3" cy="265.2" r="1.6" fill="#3274a8"/>
<circle cx="160.2" cy="261.7" r="1.6" fill="#3274a8"/>
<circle cx="160.5" cy="263.4" r="1.6" fill="#3274a8"/>
<circle cx="160.0" cy="264.9" r="1.6" fill="#3274a8"/>
<circle cx="159.0" cy="266.4" r="1.6" fill="#3274a8"/>
<circle cx="158.5" cy="266.9" r="1.6" fill="#3274a8"/>
<circle cx="155.5" cy="264.1" r="1.6" fill="#3274a8"/>
<circle cx="154.5" cy="265.7" r="1.6" fill="#3274a8"/>
<circle cx="151.8" cy="266.5" r="1.6" fill="#3274a8"/>
<circle cx="159.5" cy="270.6" r="1.6" fill="#3274a8"/>
<circle cx="162.0" cy="273.6" r="1.6" fill="#3274a8"/>
<circle cx="169.4" cy="272.6" r="1.6" fill="#3274a8"/>
<circle cx="177.9" cy="275.1" r="1.6" fill="#3274a8"/>
<circle cx="147.0" cy="275.9" r="1.6" fill="#3274a8"/>
<circle cx="150.0" cy="275.9" r="1.6" fill="#3274a8"/>
<circle cx="153.8" cy="278.2" r="1.6" fill="#3274a8"/>
<circle cx="157.3" cy="284.6" r="1.6" fill="#3274a8"/>
<circle cx="174.4" cy="284.3" r="1.6" fill="#3274a8"/>
<circle cx="173.7" cy="288.1" r="1.6" fill="#3274a8"/>
<circle cx="179.7" cy="286.4" r="1.6" fill="#3274a8"/>
<circle cx="181.7" cy="287.9" r="1.6" fill="#3274a8"/>
<circle cx="182.4" cy="290.4" r="1.6" fill="#3274a8"/>
<circle cx="190.6" cy="281.7" r="1.6" fill="#3274a8"/>
<circle cx="194.3" cy="288.9" r="1.6" fill="#3274a8"/>
<circle cx="147.5" cy="291.1" r="1.6" fill="#3274a8"/>
<circle cx="165.4" cy="293.4" r="1.6" fill="#3274a8"/>
<circle cx="176.4" cy="292.5" r="1.6" fill="#3274a8"/>
<circle cx="186.9" cy="291.9" r="1.6" fill="#3274a8"/>
<circle cx="186.4" cy="293.4" r="1.6" fill="#3274a8"/>
<circle cx="96.4" cy="299.2" r="1.6" fill="#3274a8"/>
<circle cx="124.5" cy="298.8" r="1.6" fill="#3274a8"/>
<circle cx="120.4" cy="305.4" r="1.6" fill="#3274a8"/>
<circle cx="130.9" cy="304.8" r="1.6" fill="#3274a8"/>
<circle cx="104.9" cy="310.5" r="1.6" fill="#3274a8"/>
<circle cx="108.3" cy="309.5" r="1.6" fill="#3274a8"/>
<circle cx="113.6" cy="311.7" r="1.6" fill="#3274a8"/>
<circle cx="99.4" cy="314.4" r="1.6" fill="#3274a8"/>
<circle cx="128.4" cy="313.0" r="1.6" fill="#3274a8"/>
<circle cx="140.4" cy="312.5" r="1.6" fill="#3274a8"/>
<circle cx="129.2" cy="319.3" r="1.6" fill="#3274a8"/>
<circle cx="90.1" cy="323.2" r="1.6" fill="#3274a8"/>
<circle cx="94.4" cy="328.0" r="1.6" fill="#3274a8"/>
<circle cx="118.4" cy="323.7" r="1.6" fill="#3274a8"/>
<circle cx="103.5" cy="338.9" r="1.6" fill="#3274a8"/>
<circle cx="98.0" cy="352.9" r="1.6" fill="#3274a8"/>
<circle cx="111.7" cy="355.3" r="1.6" fill="#3274a8"/>
<circle cx="147.8" cy="297.8" r="1.6" fill="#3274a8"/>
<circle cx="161.0" cy="297.5" r="1.6" fill="#3274a8"/>
<circle cx="179.4" cy="298.2" r="1.6" fill="#3274a8"/>
<circle cx="178.6" cy="299.2" r="1.6" fill="#3274a8"/>
<circle cx="144.9" cy="302.1" r="1.6" fill="#3274a8"/>
<circle cx="146.4" cy="301.5" r="1.6" fill="#3274a8"/>
<circle cx="144.9" cy="303.9" r="1.6" fill="#3274a8"/>
<circle cx="144.9" cy="305.4" r="1.6" fill="#3274a8"/>
<circle cx="151.4" cy="301.6" r="1.6" fill="#3274a8"/>
<circle cx="153.1" cy="312.9" r="1.6" fill="#3274a8"/>
<circle cx="175.3" cy="312.5" r="1.6" fill="#3274a8"/>
<circle cx="159.7" cy="332.0" r="1.6" fill="#3274a8"/>
<circle cx="186.2" cy="331.4" r="1.6" fill="#3274a8"/>
<rect x="264.40" y="232.90" width="175.00" height="128.60" fill="none" stroke="#000" stroke-width="0.5"/>
<line x1="279.43" y1="361.50" x2="279.43" y2="363.54" stroke="#000" stroke-width="0.5"/>
<text x="279.43" y="369.95" font-size="6.41" text-anchor="middle" textLength="14.16" lengthAdjust="spacingAndGlyphs" fill="#1c1c1c" stroke="#1c1c1c" stroke-width="0.1">−2.5</text>
<line x1="299.20" y1="361.50" x2="299.20" y2="363.54" stroke="#000" stroke-width="0.5"/>
<text x="299.20" y="369.95" font-size="6.41" text-anchor="middle" textLength="14.16" lengthAdjust="spacingAndGlyphs" fill="#1c1c1c" stroke="#1c1c1c" stroke-width="0.1">−2.0</text>
<line x1="318.98" y1="361.50" x2="318.98" y2="363.54" stroke="#000" stroke-width="0.5"/>
<text x="318.98" y="369.95" font-size="6.41" text-anchor="middle" textLength="14.16" lengthAdjust="spacingAndGlyphs" fill="#1c1c1c" stroke="#1c1c1c" stroke-width="0.1">−1.5</text>
<line x1="338.75" y1="361.50" x2="338.75" y2="363.54" stroke="#000" stroke-width="0.5"/>
<text x="338.75" y="369.95" font-size="6.41" text-anchor="middle" textLength="14.16" lengthAdjust="spacingAndGlyphs" fill="#1c1c1c" stroke="#1c1c1c" stroke-width="0.1">−1.0</text>
<line x1="358.53" y1="361.50" x2="358.53" y2="363.54" stroke="#000" stroke-width="0.5"/>
<text x="358.53" y="369.95" font-size="6.41" text-anchor="middle" textLength="14.16" lengthAdjust="spacingAndGlyphs" fill="#1c1c1c" stroke="#1c1c1c" stroke-width="0.1">−0.5</text>
<line x1="378.30" y1="361.50" x2="378.30" y2="363.54" stroke="#000" stroke-width="0.5"/>
<text x="378.30" y="369.95" font-size="6.41" text-anchor="middle" textLength="9.27" lengthAdjust="spacingAndGlyphs" fill="#1c1c1c" stroke="#1c1c1c" stroke-width="0.1">0.0</text>
<line x1="398.07" y1="361.50" x2="398.07" y2="363.54" stroke="#000" stroke-width="0.5"/>
<text x="398.07" y="369.95" font-size="6.41" text-anchor="middle" textLength="9.27" lengthAdjust="spacingAndGlyphs" fill="#1c1c1c" stroke="#1c1c1c" stroke-width="0.1">0.5</text>
<line x1="417.85" y1="361.50" x2="417.85" y2="363.54" stroke="#000" stroke-width="0.5"/>
<text x="417.85" y="369.95" font-size="6.41" text-anchor="middle" textLength="9.27" lengthAdjust="spacingAndGlyphs" fill="#1c1c1c" stroke="#1c1c1c" stroke-width="0.1">1.0</text>
<line x1="437.62" y1="361.50" x2="437.62" y2="363.54" stroke="#000" stroke-width="0.5"/>
<text x="437.62" y="369.95" font-size="6.41" text-anchor="middle" textLength="9.27" lengthAdjust="spacingAndGlyphs" fill="#1c1c1c" stroke="#1c1c1c" stroke-width="0.1">1.5</text>
<line x1="262.36" y1="340.40" x2="264.40" y2="340.40" stroke="#000" stroke-width="0.5"/>
<text x="260.32" y="342.90" font-size="6.41" text-anchor="end" textLength="8.59" lengthAdjust="spacingAndGlyphs" fill="#1c1c1c" stroke="#1c1c1c" stroke-width="0.1">−2</text>
<line x1="262.36" y1="313.55" x2="264.40" y2="313.55" stroke="#000" stroke-width="0.5"/>
<text x="260.32" y="316.05" font-size="6.41" text-anchor="end" textLength="8.59" lengthAdjust="spacingAndGlyphs" fill="#1c1c1c" stroke="#1c1c1c" stroke-width="0.1">−1</text>
<line x1="262.36" y1="286.70" x2="264.40" y2="286.70" stroke="#000" stroke-width="0.5"/>
<text x="260.32" y="289.20" font-size="6.41" text-anchor="end" textLength="3.71" lengthAdjust="spacingAndGlyphs" fill="#1c1c1c" stroke="#1c1c1c" stroke-width="0.1">0</text>
<line x1="262.36" y1="259.85" x2="264.40" y2="259.85" stroke="#000" stroke-width="0.5"/>
<text x="260.32" y="262.35" font-size="6.41" text-anchor="end" textLength="3.71" lengthAdjust="spacingAndGlyphs" fill="#1c1c1c" stroke="#1c1c1c" stroke-width="0.1">1</text>
<line x1="262.36" y1="233.00" x2="264.40" y2="233.00" stroke="#000" stroke-width="0.5"/>
<text x="260.32" y="235.50" font-size="6.41" text-anchor="end" textLength="3.71" lengthAdjust="spacingAndGlyphs" fill="#1c1c1c" stroke="#1c1c1c" stroke-width="0.1">2</text>
<text x="351.90" y="229.20" font-size="7.70" text-anchor="middle" textLength="47.46" lengthAdjust="spacingAndGlyphs" fill="#1c1c1c" stroke="#1c1c1c" stroke-width="0.1">ERS-CAF vs H</text>
<text x="435.90" y="240.45" font-size="6.41" text-anchor="end" textLength="20.26" lengthAdjust="spacingAndGlyphs" fill="#1c1c1c" stroke="#1c1c1c" stroke-width="0.1">r=0.18</text>
<text x="435.90" y="246.75" font-size="6.41" text-anchor="end" textLength="38.38" lengthAdjust="spacingAndGlyphs" fill="#1c1c1c" stroke="#1c1c1c" stroke-width="0.1">p=4.089e-02</text>
<text x="351.90" y="378.50" font-size="6.41" text-anchor="middle" textLength="34.41" lengthAdjust="spacingAndGlyphs" fill="#1c1c1c" stroke="#1c1c1c" stroke-width="0.1">ERS-CAF (z)</text>
<text x="248.60" y="297.20" font-size="6.41" text-anchor="middle" textLength="13.85" lengthAdjust="spacingAndGlyphs" fill="#1c1c1c" stroke="#1c1c1c" stroke-width="0.1" transform="rotate(-90 248.60 297.20)">H (z)</text>
<circle cx="272.7" cy="273.9" r="1.6" fill="#3274a8"/>
<circle cx="276.4" cy="285.4" r="1.6" fill="#3274a8"/>
<circle cx="316.3" cy="271.5" r="1.6" fill="#3274a8"/>
<circle cx="316.2" cy="280.4" r="1.6" fill="#3274a8"/>
<circle cx="324.2" cy="278.2" r="1.6" fill="#3274a8"/>
<circle cx="381.9" cy="238.7" r="1.6" fill="#3274a8"/>
<circle cx="369.4" cy="245.2" r="1.6" fill="#3274a8"/>
<circle cx="379.4" cy="246.4" r="1.6" fill="#3274a8"/>
<circle cx="345.6" cy="254.4" r="1.6" fill="#3274a8"/>
<circle cx="351.1" cy="264.3" r="1.6" fill="#3274a8"/>
<circle cx="361.4" cy="264.2" r="1.6" fill="#3274a8"/>
<circle cx="363.4" cy="263.9" r="1.6" fill="#3274a8"/>
<circle cx="365.7" cy="263.9" r="1.6" fill="#3274a8"/>
<circle cx="328.0" cy="270.9" r="1.6" fill="#3274a8"/>
<circle cx="329.5" cy="270.2" r="1.6" fill="#3274a8"/>
<circle cx="347.6" cy="273.4" r="1.6" fill="#3274a8"/>
<circle cx="361.9" cy="274.4" r="1.6" fill="#3274a8"/>
<circle cx="363.6" cy="272.1" r="1.6" fill="#3274a8"/>
<circle cx="381.9" cy="270.4" r="1.6" fill="#3274a8"/>
<circle cx="378.5" cy="274.1" r="1.6" fill="#3274a8"/>
<circle cx="374.7" cy="276.2" r="1.6" fill="#3274a8"/>
<circle cx="381.9" cy="277.4" r="1.6" fill="#3274a8"/>
<circle cx="368.3" cy="280.6" r="1.6" fill="#3274a8"/>
<circle cx="377.7" cy="281.1" r="1.6" fill="#3274a8"/>
<circle cx="381.4" cy="281.2" r="1.6" fill="#3274a8"/>
<circle cx="333.7" cy="285.6" r="1.6" fill="#3274a8"/>
<circle cx="362.2" cy="284.9" r="1.6" fill="#3274a8"/>
<circle cx="355.9" cy="287.4" r="1.6" fill="#3274a8"/>
<circle cx="359.9" cy="287.4" r="1.6" fill="#3274a8"/>
<circle cx="366.2" cy="286.4" r="1.6" fill="#3274a8"/>
<circle cx="368.6" cy="290.2" r="1.6" fill="#3274a8"/>
<circle cx="381.9" cy="285.9" r="1.6" fill="#3274a8"/>
<circle cx="379.9" cy="288.4" r="1.6" fill="#3274a8"/>
<circle cx="381.9" cy="292.4" r="1.6" fill="#3274a8"/>
<circle cx="327.5" cy="294.4" r="1.6" fill="#3274a8"/>
<circle cx="366.6" cy="294.7" r="1.6" fill="#3274a8"/>
<circle cx="349.1" cy="296.0" r="1.6" fill="#3274a8"/>
<circle cx="356.4" cy="296.7" r="1.6" fill="#3274a8"/>
<circle cx="389.0" cy="241.7" r="1.6" fill="#3274a8"/>
<circle cx="397.0" cy="246.0" r="1.6" fill="#3274a8"/>
<circle cx="391.2" cy="255.6" r="1.6" fill="#3274a8"/>
<circle cx="394.7" cy="256.0" r="1.6" fill="#3274a8"/>
<circle cx="398.5" cy="255.0" r="1.6" fill="#3274a8"/>
<circle cx="409.1" cy="253.3" r="1.6" fill="#3274a8"/>
<circle cx="428.4" cy="255.8" r="1.6" fill="#3274a8"/>
<circle cx="431.9" cy="255.8" r="1.6" fill="#3274a8"/>
<circle cx="423.7" cy="261.5" r="1.6" fill="#3274a8"/>
<circle cx="428.1" cy="262.1" r="1.6" fill="#3274a8"/>
<circle cx="411.1" cy="263.1" r="1.6" fill="#3274a8"/>
<circle cx="411.1" cy="268.4" r="1.6" fill="#3274a8"/>
<circle cx="424.4" cy="271.7" r="1.6" fill="#3274a8"/>
<circle cx="391.5" cy="271.9" r="1.6" fill="#3274a8"/>
<circle cx="393.2" cy="274.6" r="1.6" fill="#3274a8"/>
<circle cx="397.3" cy="273.9" r="1.6" fill="#3274a8"/>
<circle cx="390.5" cy="278.6" r="1.6" fill="#3274a8"/>
<circle cx="396.0" cy="278.4" r="1.6" fill="#3274a8"/>
<circle cx="398.0" cy="278.4" r="1.6" fill="#3274a8"/>
<circle cx="402.8" cy="277.9" r="1.6" fill="#3274a8"/>
<circle cx="388.0" cy="281.2" r="1.6" fill="#3274a8"/>
<circle cx="392.7" cy="282.6" r="1.6" fill="#3274a8"/>
<circle cx="412.1" cy="281.6" r="1.6" fill="#3274a8"/>
<circle cx="415.4" cy="280.4" r="1.6" fill="#3274a8"/>
<circle cx="418.4" cy="281.6" r="1.6" fill="#3274a8"/>
<circle cx="419.9" cy="278.7" r="1.6" fill="#3274a8"/>
<circle cx="415.9" cy="285.9" r="1.6" fill="#3274a8"/>
<circle cx="419.2" cy="286.1" r="1.6" fill="#3274a8"/>
<circle cx="384.0" cy="287.0" r="1.6" fill="#3274a8"/>
<circle cx="385.5" cy="291.6" r="1.6" fill="#3274a8"/>
<circle cx="394.8" cy="291.7" r="1.6" fill="#3274a8"/>
<circle cx="397.7" cy="293.4" r="1.6" fill="#3274a8"/>
<circle cx="424.1" cy="293.9" r="1.6" fill="#3274a8"/>
<circle cx="386.7" cy="296.2" r="1.6" fill="#3274a8"/>
<circle cx="397.7" cy="296.4" r="1.6" fill="#3274a8"/>
<circle cx="416.9" cy="295.2" r="1.6" fill="#3274a8"/>
<circle cx="274.1" cy="309.0" r="1.6" fill="#3274a8"/>
<circle cx="291.0" cy="333.0" r="1.6" fill="#3274a8"/>
<circle cx="319.9" cy="307.9" r="1.6" fill="#3274a8"/>
<circle cx="318.6" cy="337.3" r="1.6" fill="#3274a8"/>
<circle cx="348.8" cy="297.8" r="1.6" fill="#3274a8"/>
<circle cx="357.4" cy="299.5" r="1.6" fill="#3274a8"/>
<circle cx="359.0" cy="301.1" r="1.6" fill="#3274a8"/>
<circle cx="360.5" cy="302.3" r="1.6" fill="#3274a8"/>
<circle cx="360.7" cy="303.9" r="1.6" fill="#3274a8"/>
<circle cx="331.8" cy="299.0" r="1.6" fill="#3274a8"/>
<circle cx="343.3" cy="302.3" r="1.6" fill="#3274a8"/>
<circle cx="352.7" cy="304.6" r="1.6" fill="#3274a8"/>
<circle cx="335.4" cy="305.6" r="1.6" fill="#3274a8"/>
<circle cx="366.6" cy="306.9" r="1.6" fill="#3274a8"/>
<circle cx="375.2" cy="302.6" r="1.6" fill="#3274a8"/>
<circle cx="378.7" cy="305.3" r="1.6" fill="#3274a8"/>
<circle cx="377.2" cy="306.4" r="1.6" fill="#3274a8"/>
<circle cx="375.2" cy="306.8" r="1.6" fill="#3274a8"/>
<circle cx="382.1" cy="298.8" r="1.6" fill="#3274a8"/>
<circle cx="369.8" cy="311.2" r="1.6" fill="#3274a8"/>
<circle cx="377.9" cy="310.5" r="1.6" fill="#3274a8"/>
<circle cx="340.8" cy="311.9" r="1.6" fill="#3274a8"/>
<circle cx="329.6" cy="314.9" r="1.6" fill="#3274a8"/>
<circle cx="330.4" cy="319.1" r="1.6" fill="#3274a8"/>
<circle cx="326.9" cy="320.6" r="1.6" fill="#3274a8"/>
<circle cx="336.7" cy="318.0" r="1.6" fill="#3274a8"/>
<circle cx="348.1" cy="315.9" r="1.6" fill="#3274a8"/>
<circle cx="349.3" cy="315.6" r="1.6" fill="#3274a8"/>
<circle cx="355.4" cy="317.3" r="1.6" fill="#3274a8"/>
<circle cx="377.8" cy="315.9" r="1.6" fill="#3274a8"/>
<circle cx="357.4" cy="325.4" r="1.6" fill="#3274a8"/>
<circle cx="367.9" cy="327.2" r="1.6" fill="#3274a8"/>
<circle cx="374.7" cy="328.2" r="1.6" fill="#3274a8"/>
<circle cx="380.2" cy="333.3" r="1.6" fill="#3274a8"/>
<circle cx="342.5" cy="330.1" r="1.6" fill="#3274a8"/>
<circle cx="345.9" cy="341.6" r="1.6" fill="#3274a8"/>
<circle cx="399.4" cy="298.2" r="1.6" fill="#3274a8"/>
<circle cx="412.7" cy="298.2" r="1.6" fill="#3274a8"/>
<circle cx="411.7" cy="301.1" r="1.6" fill="#3274a8"/>
<circle cx="385.0" cy="302.9" r="1.6" fill="#3274a8"/>
<circle cx="384.2" cy="305.3" r="1.6" fill="#3274a8"/>
<circle cx="387.6" cy="307.4" r="1.6" fill="#3274a8"/>
<circle cx="405.5" cy="310.4" r="1.6" fill="#3274a8"/>
<circle cx="406.6" cy="313.7" r="1.6" fill="#3274a8"/>
<circle cx="388.9" cy="318.3" r="1.6" fill="#3274a8"/>
<circle cx="413.8" cy="324.9" r="1.6" fill="#3274a8"/>
<circle cx="396.7" cy="330.2" r="1.6" fill="#3274a8"/>
<circle cx="417.1" cy="334.8" r="1.6" fill="#3274a8"/>
<circle cx="424.4" cy="335.5" r="1.6" fill="#3274a8"/>
<circle cx="429.6" cy="356.0" r="1.6" fill="#3274a8"/>
<rect x="501.20" y="235.50" width="177.70" height="128.90" fill="none" stroke="#000" stroke-width="0.5"/>
<line x1="505.50" y1="364.40" x2="505.50" y2="366.44" stroke="#000" stroke-width="0.5"/>
<text x="505.50" y="372.85" font-size="6.41" text-anchor="middle" textLength="8.59" lengthAdjust="spacingAndGlyphs" fill="#1c1c1c" stroke="#1c1c1c" stroke-width="0.1">−3</text>
<line x1="538.50" y1="364.40" x2="538.50" y2="366.44" stroke="#000" stroke-width="0.5"/>
<text x="538.50" y="372.85" font-size="6.41" text-anchor="middle" textLength="8.59" lengthAdjust="spacingAndGlyphs" fill="#1c1c1c" stroke="#1c1c1c" stroke-width="0.1">−2</text>
<line x1="571.50" y1="364.40" x2="571.50" y2="366.44" stroke="#000" stroke-width="0.5"/>
<text x="571.50" y="372.85" font-size="6.41" text-anchor="middle" textLength="8.59" lengthAdjust="spacingAndGlyphs" fill="#1c1c1c" stroke="#1c1c1c" stroke-width="0.1">−1</text>
<line x1="604.50" y1="364.40" x2="604.50" y2="366.44" stroke="#000" stroke-width="0.5"/>
<text x="604.50" y="372.85" font-size="6.41" text-anchor="middle" textLength="3.71" lengthAdjust="spacingAndGlyphs" fill="#1c1c1c" stroke="#1c1c1c" stroke-width="0.1">0</text>
<line x1="637.50" y1="364.40" x2="637.50" y2="366.44" stroke="#000" stroke-width="0.5"/>
<text x="637.50" y="372.85" font-size="6.41" text-anchor="middle" textLength="3.71" lengthAdjust="spacingAndGlyphs" fill="#1c1c1c" stroke="#1c1c1c" stroke-width="0.1">1</text>
<line x1="670.50" y1="364.40" x2="670.50" y2="366.44" stroke="#000" stroke-width="0.5"/>
<text x="670.50" y="372.85" font-size="6.41" text-anchor="middle" textLength="3.71" lengthAdjust="spacingAndGlyphs" fill="#1c1c1c" stroke="#1c1c1c" stroke-width="0.1">2</text>
<line x1="499.16" y1="343.70" x2="501.20" y2="343.70" stroke="#000" stroke-width="0.5"/>
<text x="497.12" y="346.20" font-size="6.41" text-anchor="end" textLength="8.59" lengthAdjust="spacingAndGlyphs" fill="#1c1c1c" stroke="#1c1c1c" stroke-width="0.1">−2</text>
<line x1="499.16" y1="316.85" x2="501.20" y2="316.85" stroke="#000" stroke-width="0.5"/>
<text x="497.12" y="319.35" font-size="6.41" text-anchor="end" textLength="8.59" lengthAdjust="spacingAndGlyphs" fill="#1c1c1c" stroke="#1c1c1c" stroke-width="0.1">−1</text>
<line x1="499.16" y1="290.00" x2="501.20" y2="290.00" stroke="#000" stroke-width="0.5"/>
<text x="497.12" y="292.50" font-size="6.41" text-anchor="end" textLength="3.71" lengthAdjust="spacingAndGlyphs" fill="#1c1c1c" stroke="#1c1c1c" stroke-width="0.1">0</text>
<line x1="499.16" y1="263.15" x2="501.20" y2="263.15" stroke="#000" stroke-width="0.5"/>
<text x="497.12" y="265.65" font-size="6.41" text-anchor="end" textLength="3.71" lengthAdjust="spacingAndGlyphs" fill="#1c1c1c" stroke="#1c1c1c" stroke-width="0.1">1</text>
<line x1="499.16" y1="236.30" x2="501.20" y2="236.30" stroke="#000" stroke-width="0.5"/>
<text x="497.12" y="238.80" font-size="6.41" text-anchor="end" textLength="3.71" lengthAdjust="spacingAndGlyphs" fill="#1c1c1c" stroke="#1c1c1c" stroke-width="0.1">2</text>
<text x="590.05" y="231.80" font-size="7.70" text-anchor="middle" textLength="26.27" lengthAdjust="spacingAndGlyphs" fill="#1c1c1c" stroke="#1c1c1c" stroke-width="0.1">LR vs H</text>
<text x="675.35" y="243.05" font-size="6.41" text-anchor="end" textLength="20.26" lengthAdjust="spacingAndGlyphs" fill="#1c1c1c" stroke="#1c1c1c" stroke-width="0.1">r=0.10</text>
<text x="675.35" y="249.35" font-size="6.41" text-anchor="end" textLength="38.38" lengthAdjust="spacingAndGlyphs" fill="#1c1c1c" stroke="#1c1c1c" stroke-width="0.1">p=2.664e-01</text>
<text x="590.05" y="381.40" font-size="6.41" text-anchor="middle" textLength="16.76" lengthAdjust="spacingAndGlyphs" fill="#1c1c1c" stroke="#1c1c1c" stroke-width="0.1">LR (z)</text>
<text x="485.40" y="299.95" font-size="6.41" text-anchor="middle" textLength="13.85" lengthAdjust="spacingAndGlyphs" fill="#1c1c1c" stroke="#1c1c1c" stroke-width="0.1" transform="rotate(-90 485.40 299.95)">H (z)</text>
<circle cx="541.2" cy="248.8" r="1.6" fill="#3274a8"/>
<circle cx="541.9" cy="264.4" r="1.6" fill="#3274a8"/>
<circle cx="552.4" cy="290.4" r="1.6" fill="#3274a8"/>
<circle cx="553.2" cy="297.4" r="1.6" fill="#3274a8"/>
<circle cx="594.7" cy="241.6" r="1.6" fill="#3274a8"/>
<circle cx="572.0" cy="257.2" r="1.6" fill="#3274a8"/>
<circle cx="588.4" cy="257.7" r="1.6" fill="#3274a8"/>
<circle cx="600.4" cy="258.7" r="1.6" fill="#3274a8"/>
<circle cx="606.3" cy="258.8" r="1.6" fill="#3274a8"/>
<circle cx="615.5" cy="258.5" r="1.6" fill="#3274a8"/>
<circle cx="567.2" cy="266.7" r="1.6" fill="#3274a8"/>
<circle cx="569.2" cy="267.2" r="1.6" fill="#3274a8"/>
<circle cx="598.9" cy="266.9" r="1.6" fill="#3274a8"/>
<circle cx="601.9" cy="266.1" r="1.6" fill="#3274a8"/>
<circle cx="610.4" cy="264.9" r="1.6" fill="#3274a8"/>
<circle cx="577.8" cy="273.4" r="1.6" fill="#3274a8"/>
<circle cx="590.2" cy="273.0" r="1.6" fill="#3274a8"/>
<circle cx="592.9" cy="273.4" r="1.6" fill="#3274a8"/>
<circle cx="586.7" cy="277.4" r="1.6" fill="#3274a8"/>
<circle cx="589.9" cy="277.2" r="1.6" fill="#3274a8"/>
<circle cx="592.4" cy="277.4" r="1.6" fill="#3274a8"/>
<circle cx="596.2" cy="276.2" r="1.6" fill="#3274a8"/>
<circle cx="613.9" cy="274.2" r="1.6" fill="#3274a8"/>
<circle cx="567.5" cy="281.4" r="1.6" fill="#3274a8"/>
<circle cx="568.2" cy="283.9" r="1.6" fill="#3274a8"/>
<circle cx="578.7" cy="283.5" r="1.6" fill="#3274a8"/>
<circle cx="594.1" cy="280.7" r="1.6" fill="#3274a8"/>
<circle cx="593.9" cy="283.4" r="1.6" fill="#3274a8"/>
<circle cx="598.4" cy="281.7" r="1.6" fill="#3274a8"/>
<circle cx="605.1" cy="280.5" r="1.6" fill="#3274a8"/>
<circle cx="582.7" cy="288.7" r="1.6" fill="#3274a8"/>
<circle cx="583.5" cy="289.9" r="1.6" fill="#3274a8"/>
<circle cx="586.4" cy="288.6" r="1.6" fill="#3274a8"/>
<circle cx="589.9" cy="288.1" r="1.6" fill="#3274a8"/>
<circle cx="593.9" cy="289.4" r="1.6" fill="#3274a8"/>
<circle cx="601.4" cy="288.9" r="1.6" fill="#3274a8"/>
<circle cx="600.4" cy="293.1" r="1.6" fill="#3274a8"/>
<circle cx="588.1" cy="294.4" r="1.6" fill="#3274a8"/>
<circle cx="594.4" cy="296.7" r="1.6" fill="#3274a8"/>
<circle cx="599.9" cy="297.6" r="1.6" fill="#3274a8"/>
<circle cx="587.7" cy="298.2" r="1.6" fill="#3274a8"/>
<circle cx="591.4" cy="299.4" r="1.6" fill="#3274a8"/>
<circle cx="604.4" cy="298.9" r="1.6" fill="#3274a8"/>
<circle cx="607.1" cy="300.7" r="1.6" fill="#3274a8"/>
<circle cx="631.2" cy="244.5" r="1.6" fill="#3274a8"/>
<circle cx="646.0" cy="249.3" r="1.6" fill="#3274a8"/>
<circle cx="667.6" cy="247.8" r="1.6" fill="#3274a8"/>
<circle cx="636.0" cy="256.2" r="1.6" fill="#3274a8"/>
<circle cx="665.6" cy="258.7" r="1.6" fill="#3274a8"/>
<circle cx="641.3" cy="267.1" r="1.6" fill="#3274a8"/>
<circle cx="662.9" cy="271.2" r="1.6" fill="#3274a8"/>
<circle cx="624.0" cy="275.1" r="1.6" fill="#3274a8"/>
<circle cx="623.7" cy="279.1" r="1.6" fill="#3274a8"/>
<circle cx="632.0" cy="274.9" r="1.6" fill="#3274a8"/>
<circle cx="632.5" cy="276.7" r="1.6" fill="#3274a8"/>
<circle cx="634.7" cy="277.6" r="1.6" fill="#3274a8"/>
<circle cx="648.9" cy="274.4" r="1.6" fill="#3274a8"/>
<circle cx="647.4" cy="276.7" r="1.6" fill="#3274a8"/>
<circle cx="619.8" cy="283.4" r="1.6" fill="#3274a8"/>
<circle cx="630.8" cy="281.4" r="1.6" fill="#3274a8"/>
<circle cx="636.6" cy="281.4" r="1.6" fill="#3274a8"/>
<circle cx="644.6" cy="281.1" r="1.6" fill="#3274a8"/>
<circle cx="639.2" cy="284.6" r="1.6" fill="#3274a8"/>
<circle cx="645.4" cy="285.4" r="1.6" fill="#3274a8"/>
<circle cx="646.9" cy="284.1" r="1.6" fill="#3274a8"/>
<circle cx="660.5" cy="284.6" r="1.6" fill="#3274a8"/>
<circle cx="630.7" cy="287.7" r="1.6" fill="#3274a8"/>
<circle cx="654.1" cy="290.2" r="1.6" fill="#3274a8"/>
<circle cx="639.0" cy="291.5" r="1.6" fill="#3274a8"/>
<circle cx="633.5" cy="295.4" r="1.6" fill="#3274a8"/>
<circle cx="634.0" cy="296.9" r="1.6" fill="#3274a8"/>
<circle cx="665.2" cy="294.7" r="1.6" fill="#3274a8"/>
<circle cx="546.8" cy="301.8" r="1.6" fill="#3274a8"/>
<circle cx="512.4" cy="308.4" r="1.6" fill="#3274a8"/>
<circle cx="508.9" cy="318.5" r="1.6" fill="#3274a8"/>
<circle cx="531.7" cy="314.8" r="1.6" fill="#3274a8"/>
<circle cx="558.5" cy="309.8" r="1.6" fill="#3274a8"/>
<circle cx="568.1" cy="301.2" r="1.6" fill="#3274a8"/>
<circle cx="577.7" cy="302.7" r="1.6" fill="#3274a8"/>
<circle cx="580.1" cy="301.8" r="1.6" fill="#3274a8"/>
<circle cx="597.5" cy="305.8" r="1.6" fill="#3274a8"/>
<circle cx="604.6" cy="305.1" r="1.6" fill="#3274a8"/>
<circle cx="606.6" cy="303.9" r="1.6" fill="#3274a8"/>
<circle cx="608.9" cy="305.6" r="1.6" fill="#3274a8"/>
<circle cx="611.9" cy="304.8" r="1.6" fill="#3274a8"/>
<circle cx="602.6" cy="308.1" r="1.6" fill="#3274a8"/>
<circle cx="598.5" cy="309.4" r="1.6" fill="#3274a8"/>
<circle cx="589.6" cy="309.8" r="1.6" fill="#3274a8"/>
<circle cx="618.3" cy="308.1" r="1.6" fill="#3274a8"/>
<circle cx="619.8" cy="307.5" r="1.6" fill="#3274a8"/>
<circle cx="618.6" cy="310.6" r="1.6" fill="#3274a8"/>
<circle cx="615.5" cy="311.9" r="1.6" fill="#3274a8"/>
<circle cx="609.3" cy="314.2" r="1.6" fill="#3274a8"/>
<circle cx="614.0" cy="318.8" r="1.6" fill="#3274a8"/>
<circle cx="618.5" cy="318.6" r="1.6" fill="#3274a8"/>
<circle cx="619.9" cy="317.9" r="1.6" fill="#3274a8"/>
<circle cx="565.6" cy="320.8" r="1.6" fill="#3274a8"/>
<circle cx="583.1" cy="321.1" r="1.6" fill="#3274a8"/>
<circle cx="589.2" cy="322.0" r="1.6" fill="#3274a8"/>
<circle cx="602.0" cy="323.3" r="1.6" fill="#3274a8"/>
<circle cx="595.5" cy="327.6" r="1.6" fill="#3274a8"/>
<circle cx="593.4" cy="330.2" r="1.6" fill="#3274a8"/>
<circle cx="604.3" cy="328.4" r="1.6" fill="#3274a8"/>
<circle cx="570.6" cy="333.0" r="1.6" fill="#3274a8"/>
<circle cx="601.3" cy="336.0" r="1.6" fill="#3274a8"/>
<circle cx="604.3" cy="337.5" r="1.6" fill="#3274a8"/>
<circle cx="606.4" cy="340.2" r="1.6" fill="#3274a8"/>
<circle cx="596.3" cy="338.3" r="1.6" fill="#3274a8"/>
<circle cx="615.7" cy="335.8" r="1.6" fill="#3274a8"/>
<circle cx="596.3" cy="344.4" r="1.6" fill="#3274a8"/>
<circle cx="621.5" cy="301.0" r="1.6" fill="#3274a8"/>
<circle cx="622.7" cy="304.1" r="1.6" fill="#3274a8"/>
<circle cx="637.5" cy="300.3" r="1.6" fill="#3274a8"/>
<circle cx="670.5" cy="299.5" r="1.6" fill="#3274a8"/>
<circle cx="654.3" cy="306.6" r="1.6" fill="#3274a8"/>
<circle cx="625.3" cy="308.9" r="1.6" fill="#3274a8"/>
<circle cx="634.5" cy="310.7" r="1.6" fill="#3274a8"/>
<circle cx="639.5" cy="313.2" r="1.6" fill="#3274a8"/>
<circle cx="624.6" cy="313.4" r="1.6" fill="#3274a8"/>
<circle cx="622.9" cy="316.4" r="1.6" fill="#3274a8"/>
<circle cx="626.3" cy="320.0" r="1.6" fill="#3274a8"/>
<circle cx="624.9" cy="330.9" r="1.6" fill="#3274a8"/>
<circle cx="625.6" cy="333.1" r="1.6" fill="#3274a8"/>
<circle cx="633.2" cy="358.8" r="1.6" fill="#3274a8"/>
<rect x="258.60" y="453.30" width="163.00" height="162.00" fill="#2f9e82"/>
<rect x="258.60" y="453.30" width="54.33" height="54.00" fill="#ecd648"/>
<rect x="312.93" y="507.30" width="54.33" height="54.00" fill="#ecd648"/>
<rect x="367.27" y="561.30" width="54.33" height="54.00" fill="#ecd648"/>
<text x="285.77" y="482.00" font-size="7.59" text-anchor="middle" textLength="15.36" lengthAdjust="spacingAndGlyphs" fill="#1c1c1c" stroke="#1c1c1c" stroke-width="0.1">1.00</text>
<text x="340.10" y="482.00" font-size="7.59" text-anchor="middle" textLength="15.36" lengthAdjust="spacingAndGlyphs" fill="#1c1c1c" stroke="#1c1c1c" stroke-width="0.1">0.20</text>
<text x="394.43" y="482.00" font-size="7.59" text-anchor="middle" textLength="15.36" lengthAdjust="spacingAndGlyphs" fill="#1c1c1c" stroke="#1c1c1c" stroke-width="0.1">0.18</text>
<text x="285.77" y="536.00" font-size="7.59" text-anchor="middle" textLength="15.36" lengthAdjust="spacingAndGlyphs" fill="#1c1c1c" stroke="#1c1c1c" stroke-width="0.1">0.20</text>
<text x="340.10" y="536.00" font-size="7.59" text-anchor="middle" textLength="15.36" lengthAdjust="spacingAndGlyphs" fill="#1c1c1c" stroke="#1c1c1c" stroke-width="0.1">1.00</text>
<text x="394.43" y="536.00" font-size="7.59" text-anchor="middle" textLength="15.36" lengthAdjust="spacingAndGlyphs" fill="#1c1c1c" stroke="#1c1c1c" stroke-width="0.1">0.10</text>
<text x="285.77" y="590.00" font-size="7.59" text-anchor="middle" textLength="15.36" lengthAdjust="spacingAndGlyphs" fill="#1c1c1c" stroke="#1c1c1c" stroke-width="0.1">0.18</text>
<text x="340.10" y="590.00" font-size="7.59" text-anchor="middle" textLength="15.36" lengthAdjust="spacingAndGlyphs" fill="#1c1c1c" stroke="#1c1c1c" stroke-width="0.1">0.10</text>
<text x="394.43" y="590.00" font-size="7.59" text-anchor="middle" textLength="15.36" lengthAdjust="spacingAndGlyphs" fill="#1c1c1c" stroke="#1c1c1c" stroke-width="0.1">1.00</text>
<rect x="258.60" y="453.30" width="163.00" height="162.00" fill="none" stroke="#000" stroke-width="0.5"/>
<line x1="285.77" y1="615.30" x2="285.77" y2="617.70" stroke="#000" stroke-width="0.5"/>
<text x="285.77" y="626.00" font-size="7.59" text-anchor="middle" textLength="29.53" lengthAdjust="spacingAndGlyphs" fill="#1c1c1c" stroke="#1c1c1c" stroke-width="0.1">ERS-CAF</text>
<line x1="256.20" y1="480.30" x2="258.60" y2="480.30" stroke="#000" stroke-width="0.5"/>
<text x="253.80" y="482.81" font-size="7.59" text-anchor="end" textLength="29.53" lengthAdjust="spacingAndGlyphs" fill="#1c1c1c" stroke="#1c1c1c" stroke-width="0.1">ERS-CAF</text>
<line x1="340.10" y1="615.30" x2="340.10" y2="617.70" stroke="#000" stroke-width="0.5"/>
<text x="340.10" y="626.00" font-size="7.59" text-anchor="middle" textLength="8.64" lengthAdjust="spacingAndGlyphs" fill="#1c1c1c" stroke="#1c1c1c" stroke-width="0.1">LR</text>
<line x1="256.20" y1="534.30" x2="258.60" y2="534.30" stroke="#000" stroke-width="0.5"/>
<text x="253.80" y="536.81" font-size="7.59" text-anchor="end" textLength="8.64" lengthAdjust="spacingAndGlyphs" fill="#1c1c1c" stroke="#1c1c1c" stroke-width="0.1">LR</text>
<line x1="394.43" y1="615.30" x2="394.43" y2="617.70" stroke="#000" stroke-width="0.5"/>
<text x="394.43" y="626.00" font-size="7.59" text-anchor="middle" textLength="5.19" lengthAdjust="spacingAndGlyphs" fill="#1c1c1c" stroke="#1c1c1c" stroke-width="0.1">H</text>
<line x1="256.20" y1="588.30" x2="258.60" y2="588.30" stroke="#000" stroke-width="0.5"/>
<text x="253.80" y="590.81" font-size="7.59" text-anchor="end" textLength="5.19" lengthAdjust="spacingAndGlyphs" fill="#1c1c1c" stroke="#1c1c1c" stroke-width="0.1">H</text>
<text x="340.10" y="449.00" font-size="9.13" text-anchor="middle" textLength="123.61" lengthAdjust="spacingAndGlyphs" fill="#1c1c1c" stroke="#1c1c1c" stroke-width="0.1">Correlation matrix (Pearson r)</text>
<defs><linearGradient id="vir" x1="0" y1="1" x2="0" y2="0"><stop offset="0.0" stop-color="#472a5a"/><stop offset="0.05" stop-color="#4a2d66"/><stop offset="0.1" stop-color="#4b3170"/><stop offset="0.15" stop-color="#4b3b75"/><stop offset="0.2" stop-color="#48487d"/><stop offset="0.25" stop-color="#435581"/><stop offset="0.3" stop-color="#3f5f84"/><stop offset="0.35" stop-color="#3a6a86"/><stop offset="0.4" stop-color="#367587"/><stop offset="0.45" stop-color="#327f88"/><stop offset="0.5" stop-color="#2f8988"/><stop offset="0.55" stop-color="#2d9286"/><stop offset="0.6" stop-color="#319d83"/><stop offset="0.65" stop-color="#3ca77e"/><stop offset="0.7" stop-color="#4db177"/><stop offset="0.75" stop-color="#64ba6e"/><stop offset="0.8" stop-color="#7bc162"/><stop offset="0.85" stop-color="#96c754"/><stop offset="0.9" stop-color="#b3cc44"/><stop offset="0.95" stop-color="#d0d13a"/><stop offset="1.0" stop-color="#ebd747"/></linearGradient></defs>
<rect x="428.50" y="452.80" width="8.60" height="163.20" fill="url(#vir)"/>
<rect x="428.50" y="452.80" width="8.60" height="163.20" fill="none" stroke="#000" stroke-width="0.5"/>
<line x1="437.10" y1="452.80" x2="439.50" y2="452.80" stroke="#000" stroke-width="0.5"/>
<text x="441.90" y="455.30" font-size="7.59" text-anchor="start" textLength="15.36" lengthAdjust="spacingAndGlyphs" fill="#1c1c1c" stroke="#1c1c1c" stroke-width="0.1">1.00</text>
<line x1="437.10" y1="473.20" x2="439.50" y2="473.20" stroke="#000" stroke-width="0.5"/>
<text x="441.90" y="475.74" font-size="7.59" text-anchor="start" textLength="15.36" lengthAdjust="spacingAndGlyphs" fill="#1c1c1c" stroke="#1c1c1c" stroke-width="0.1">0.75</text>
<line x1="437.10" y1="493.60" x2="439.50" y2="493.60" stroke="#000" stroke-width="0.5"/>
<text x="441.90" y="496.18" font-size="7.59" text-anchor="start" textLength="15.36" lengthAdjust="spacingAndGlyphs" fill="#1c1c1c" stroke="#1c1c1c" stroke-width="0.1">0.50</text>
<line x1="437.10" y1="514.00" x2="439.50" y2="514.00" stroke="#000" stroke-width="0.5"/>
<text x="441.90" y="516.61" font-size="7.59" text-anchor="start" textLength="15.36" lengthAdjust="spacingAndGlyphs" fill="#1c1c1c" stroke="#1c1c1c" stroke-width="0.1">0.25</text>
<line x1="437.10" y1="534.40" x2="439.50" y2="534.40" stroke="#000" stroke-width="0.5"/>
<text x="441.90" y="537.05" font-size="7.59" text-anchor="start" textLength="15.36" lengthAdjust="spacingAndGlyphs" fill="#1c1c1c" stroke="#1c1c1c" stroke-width="0.1">0.00</text>
<line x1="437.10" y1="554.80" x2="439.50" y2="554.80" stroke="#000" stroke-width="0.5"/>
<text x="441.90" y="557.49" font-size="7.59" text-anchor="start" textLength="21.14" lengthAdjust="spacingAndGlyphs" fill="#1c1c1c" stroke="#1c1c1c" stroke-width="0.1">−0.25</text>
<line x1="437.10" y1="575.20" x2="439.50" y2="575.20" stroke="#000" stroke-width="0.5"/>
<text x="441.90" y="577.93" font-size="7.59" text-anchor="start" textLength="21.14" lengthAdjust="spacingAndGlyphs" fill="#1c1c1c" stroke="#1c1c1c" stroke-width="0.1">−0.50</text>
<line x1="437.10" y1="595.60" x2="439.50" y2="595.60" stroke="#000" stroke-width="0.5"/>
<text x="441.90" y="598.36" font-size="7.59" text-anchor="start" textLength="21.14" lengthAdjust="spacingAndGlyphs" fill="#1c1c1c" stroke="#1c1c1c" stroke-width="0.1">−0.75</text>
<line x1="437.10" y1="616.00" x2="439.50" y2="616.00" stroke="#000" stroke-width="0.5"/>
<text x="441.90" y="618.80" font-size="7.59" text-anchor="start" textLength="21.14" lengthAdjust="spacingAndGlyphs" fill="#1c1c1c" stroke="#1c1c1c" stroke-width="0.1">−1.00</text>
<text x="12.00" y="181.9" font-size="12.8" fill="#1a1a1a" stroke="#1a1a1a" stroke-width="0.22" textLength="147.24" lengthAdjust="spacing">(a) ERS-CAF abundance.</text>
<text x="245.90" y="184.6" font-size="12.8" fill="#1a1a1a" stroke="#1a1a1a" stroke-width="0.22" textLength="104.13" lengthAdjust="spacing">(b) LR interaction.</text>
<text x="481.00" y="184.8" font-size="12.8" fill="#1a1a1a" stroke="#1a1a1a" stroke-width="0.22" textLength="113.46" lengthAdjust="spacing">(c) <tspan font-style="italic">H</tspan> heterogeneity.</text>
<text x="8.50" y="402.7" font-size="12.8" fill="#1a1a1a" stroke="#1a1a1a" stroke-width="0.22" textLength="164.46" lengthAdjust="spacing">(d) ERS-CAF vs. LR (scatter).</text>
<text x="243.80" y="403.0" font-size="12.8" fill="#1a1a1a" stroke="#1a1a1a" stroke-width="0.22" textLength="156.74" lengthAdjust="spacing">(e) ERS-CAF vs. <tspan font-style="italic">H</tspan> (scatter).</text>
<text x="482.70" y="403.4" font-size="12.8" fill="#1a1a1a" stroke="#1a1a1a" stroke-width="0.22" textLength="119.96" lengthAdjust="spacing">(f) LR vs. <tspan font-style="italic">H</tspan> (scatter).</text>
<text x="220.50" y="648.2" font-size="12.8" fill="#1a1a1a" stroke="#1a1a1a" stroke-width="0.22" textLength="149.88" lengthAdjust="spacing">(g) Correlation heatmap <tspan font-style="italic">(r)</tspan>.</text>
</svg>
</body></html>
